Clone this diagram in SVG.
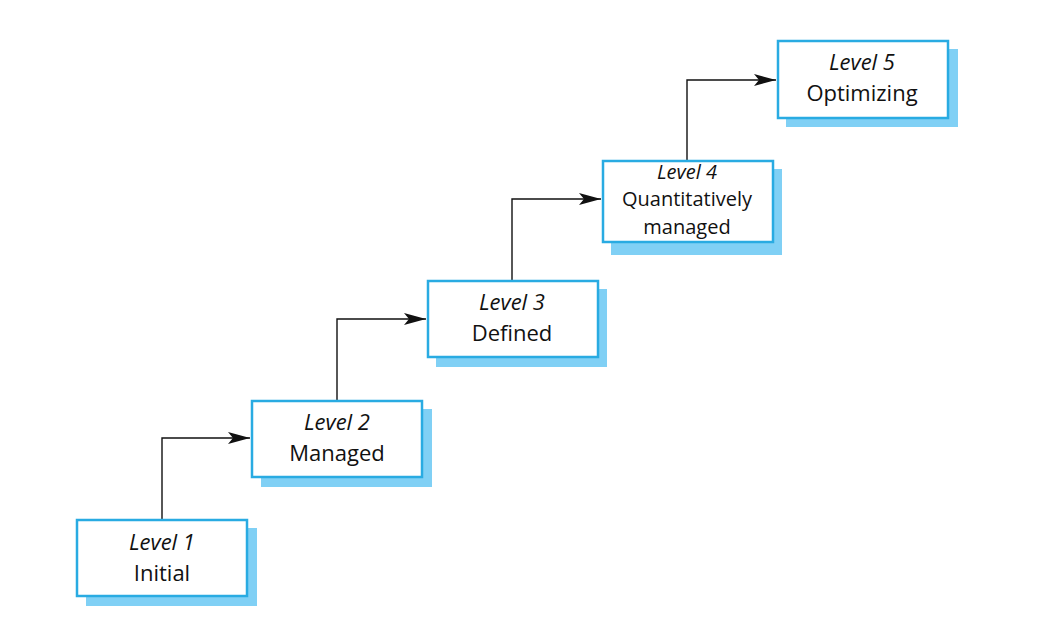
<svg xmlns="http://www.w3.org/2000/svg" width="1044" height="640" viewBox="0 0 1044 640">
<defs>
<style>
.shadow{fill:#80d0f5;}
.box{fill:#ffffff;stroke:#29abe2;stroke-width:2.5;}
.t{font-family:"Open Sans","Noto Sans",sans-serif;font-size:22px;fill:#111;text-anchor:middle;}
.s{font-size:20px;}
.i{font-style:italic;}
.conn{fill:none;stroke:#111;stroke-width:1.4;}
</style>
<marker id="ah" markerWidth="22" markerHeight="12" refX="22" refY="6" orient="auto" markerUnits="userSpaceOnUse">
<path d="M0,0 L22,6 L0,12 L5,6 Z" fill="#111"/>
</marker>
</defs>
<rect width="1044" height="640" fill="#fff"/>
<g id="connectors">
<path class="conn" d="M162,519 V438 H250" marker-end="url(#ah)"/>
<path class="conn" d="M337,400 V319 H426" marker-end="url(#ah)"/>
<path class="conn" d="M512,280 V199 H601" marker-end="url(#ah)"/>
<path class="conn" d="M687,160 V80 H776" marker-end="url(#ah)"/>
</g>
<g id="level1">
<rect class="shadow" x="86" y="528" width="171" height="78"/>
<rect class="box" x="77" y="520" width="170" height="76"/>
<text class="t i" x="162" y="550">Level 1</text>
<text class="t" x="162" y="581">Initial</text>
</g>
<g id="level2">
<rect class="shadow" x="261" y="409" width="171" height="78"/>
<rect class="box" x="252" y="401" width="170" height="76"/>
<text class="t i" x="337" y="430">Level 2</text>
<text class="t" x="337" y="461">Managed</text>
</g>
<g id="level3">
<rect class="shadow" x="436" y="289" width="171" height="78"/>
<rect class="box" x="428" y="281" width="170" height="76"/>
<text class="t i" x="512" y="310">Level 3</text>
<text class="t" x="512" y="341">Defined</text>
</g>
<g id="level4">
<rect class="shadow" x="611" y="169" width="171" height="86"/>
<rect class="box" x="603" y="161" width="170" height="81"/>
<text class="t s i" x="687" y="178.5">Level 4</text>
<text class="t s" x="687" y="206">Quantitatively</text>
<text class="t s" x="687" y="233.5">managed</text>
</g>
<g id="level5">
<rect class="shadow" x="786" y="49" width="172" height="78"/>
<rect class="box" x="778" y="41" width="170" height="77"/>
<text class="t i" x="862" y="70">Level 5</text>
<text class="t" x="862" y="101">Optimizing</text>
</g>
</svg>
